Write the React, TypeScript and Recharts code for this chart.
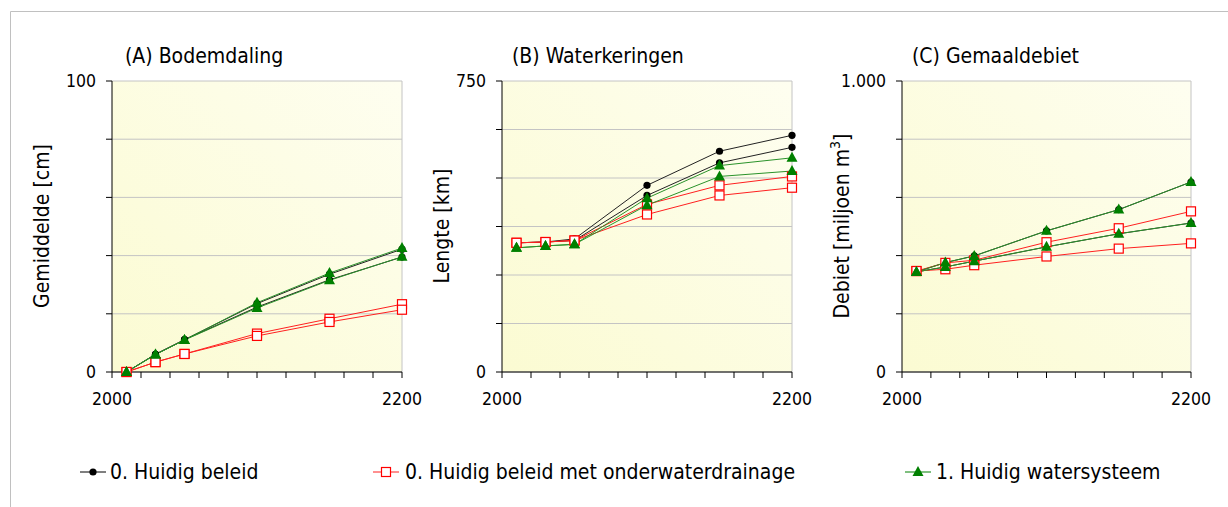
import React from "react";
import { LineChart, Line, XAxis, YAxis, CartesianGrid, ReferenceLine } from "recharts";

// scenario years (shared by all three panels)
const years = [2010, 2030, 2050, 2100, 2150, 2200];
const xTicks = [2000, 2020, 2040, 2060, 2080, 2100, 2120, 2140, 2160, 2180, 2200];

// (A) Bodemdaling [cm]
const bodemBeleidHoog = [0, 6.1, 11.1, 23.5, 33.6, 42.2];
const bodemBeleidLaag = [0, 6.1, 11.1, 22.3, 31.7, 39.5];
const bodemDrainHoog = [0, 3.4, 6.2, 13.2, 18.3, 23.3];
const bodemDrainLaag = [0, 3.4, 6.2, 12.4, 17.2, 21.4];
const bodemWaterHoog = [0, 6.0, 11.0, 23.8, 34.0, 42.6];
const bodemWaterLaag = [0, 6.0, 11.0, 22.0, 31.5, 39.6];
const bodemTicks = [0, 20, 40, 60, 80, 100];

// (B) Waterkeringen [km]
const keringBeleidHoog = [333, 335, 343, 481, 569, 610];
const keringBeleidLaag = [333, 335, 339, 455, 539, 579];
const keringDrainHoog = [333, 335, 339, 432, 481, 504];
const keringDrainLaag = [333, 335, 339, 406, 455, 475];
const keringWaterHoog = [320, 325, 329, 448, 532, 552];
const keringWaterLaag = [320, 325, 329, 430, 504, 518];
const keringTicks = [0, 125, 250, 375, 500, 625, 750];

// (C) Gemaaldebiet [miljoen m3]
const debietBeleidHoog = [344, 376, 399, 485, 558, 653];
const debietBeleidLaag = [344, 361, 381, 430, 475, 512];
const debietDrainHoog = [347, 375, 384, 446, 494, 552];
const debietDrainLaag = [347, 353, 367, 397, 424, 442];
const debietWaterHoog = [344, 376, 399, 485, 558, 653];
const debietWaterLaag = [344, 361, 381, 430, 475, 512];
const debietTicks = [0, 200, 400, 600, 800, 1000];

const legendItems = ["0. Huidig beleid", "0. Huidig beleid met onderwaterdrainage", "1. Huidig watersysteem"];

const FONT = "'DejaVu Sans Condensed', 'DejaVu Sans', sans-serif";
const BLACK = "#000000";
const RED = "#ff2020";
const GREEN = "#008000";

const rows = (b1, b2, r1, r2, g1, g2) =>
  years.map((year, i) => ({ year, b1: b1[i], b2: b2[i], r1: r1[i], r2: r2[i], g1: g1[i], g2: g2[i] }));

const Circle = (p) =>
  p.cx == null ? null : <circle key={p.key} cx={p.cx} cy={p.cy} r={3.6} fill={BLACK} />;
const Square = (p) =>
  p.cx == null ? null : (
    <rect key={p.key} x={p.cx - 4.5} y={p.cy - 4.5} width={9} height={9} fill="#fff" stroke="#ff0000" strokeWidth={1.2} />
  );
const Triangle = (p) =>
  p.cx == null ? null : (
    <polygon key={p.key} points={`${p.cx},${p.cy - 6} ${p.cx + 5.5},${p.cy + 4} ${p.cx - 5.5},${p.cy + 4}`} fill={GREEN} />
  );

const panels = [
  {
    left: 0, width: 440, yWidth: 112, right: 38,
    data: rows(bodemBeleidHoog, bodemBeleidLaag, bodemDrainHoog, bodemDrainLaag, bodemWaterHoog, bodemWaterLaag),
    ticks: bodemTicks, fmt: (v) => (v === 0 ? "0" : v === 100 ? "100" : ""),
  },
  {
    left: 420, width: 420, yWidth: 82, right: 48,
    data: rows(keringBeleidHoog, keringBeleidLaag, keringDrainHoog, keringDrainLaag, keringWaterHoog, keringWaterLaag),
    ticks: keringTicks, fmt: (v) => (v === 0 ? "0" : v === 750 ? "750" : ""),
  },
  {
    left: 820, width: 408, yWidth: 82, right: 37,
    data: rows(debietBeleidHoog, debietBeleidLaag, debietDrainHoog, debietDrainLaag, debietWaterHoog, debietWaterLaag),
    ticks: debietTicks, fmt: (v) => (v === 0 ? "0" : v === 1000 ? "1.000" : ""),
  },
];

const tickStyle = { fill: "#000", fontSize: 17.5, fontFamily: FONT };

function Panel({ cfg }) {
  const max = cfg.ticks[cfg.ticks.length - 1];
  return (
    <div style={{ position: "absolute", left: cfg.left, top: 0 }}>
      <LineChart width={cfg.width} height={420} data={cfg.data} margin={{ top: 81, right: cfg.right, bottom: 18, left: 0 }}>
        <CartesianGrid vertical={false} stroke="#c4c4c4" fill="url(#plotBg)" fillOpacity={1} />
        <ReferenceLine x={2200} stroke="#c4c4c4" />
        <XAxis
          dataKey="year" type="number" domain={[2000, 2200]} ticks={xTicks} interval={0}
          tickFormatter={(v) => (v === 2000 || v === 2200 ? String(v) : "")}
          tickSize={6} tickMargin={15} stroke={BLACK} tick={tickStyle}
        />
        <YAxis
          type="number" domain={[0, max]} ticks={cfg.ticks} interval={0} width={cfg.yWidth}
          tickFormatter={cfg.fmt} tickSize={6} tickMargin={10} stroke={BLACK} tick={tickStyle}
        />
        <Line dataKey="b1" stroke="#222" strokeWidth={1} dot={Circle} activeDot={false} isAnimationActive={false} />
        <Line dataKey="b2" stroke="#222" strokeWidth={1} dot={Circle} activeDot={false} isAnimationActive={false} />
        <Line dataKey="r1" stroke={RED} strokeWidth={1} dot={Square} activeDot={false} isAnimationActive={false} />
        <Line dataKey="r2" stroke={RED} strokeWidth={1} dot={Square} activeDot={false} isAnimationActive={false} />
        <Line dataKey="g1" stroke="#2a922a" strokeWidth={1} dot={Triangle} activeDot={false} isAnimationActive={false} />
        <Line dataKey="g2" stroke="#2a922a" strokeWidth={1} dot={Triangle} activeDot={false} isAnimationActive={false} />
      </LineChart>
    </div>
  );
}

export default function App() {
  const txt = { fontFamily: FONT, fontSize: 21, fill: "#000" };
  return (
    <div style={{ position: "relative", width: 1228, height: 507, background: "#fff", overflow: "hidden" }}>
      <style>{"body{margin:0}"}</style>
      <svg width={1228} height={507} style={{ position: "absolute", left: 0, top: 0 }}>
        <defs>
          <linearGradient id="plotBg" x1="0" y1="1" x2="1" y2="0">
            <stop offset="0%" stopColor="#fbfbd2" />
            <stop offset="100%" stopColor="#fefef0" />
          </linearGradient>
        </defs>
        <path d="M10.5,507 L10.5,11.5 L1228,11.5" fill="none" stroke="#c0c0c0" />
        <text x={125} y={63} {...txt}>(A) Bodemdaling</text>
        <text x={512} y={63} {...txt}>(B) Waterkeringen</text>
        <text x={912} y={63} {...txt}>(C) Gemaaldebiet</text>
        <text transform="translate(49,226) rotate(-90)" textAnchor="middle" {...txt}>Gemiddelde [cm]</text>
        <text transform="translate(449,226) rotate(-90)" textAnchor="middle" {...txt}>Lengte [km]</text>
        <text transform="translate(849,226) rotate(-90)" textAnchor="middle" {...txt}>
          <tspan>Debiet [miljoen m</tspan>
          <tspan dy={-9} fontSize={14}>3</tspan>
          <tspan dy={9}>]</tspan>
        </text>
        {/* legend */}
        <line x1={80} y1={472} x2={106} y2={472} stroke={BLACK} />
        <circle cx={93} cy={472} r={3.6} fill={BLACK} />
        <text x={110} y={479} {...txt}>{legendItems[0]}</text>
        <line x1={373} y1={472} x2={399} y2={472} stroke={RED} />
        <rect x={381.5} y={467.5} width={9} height={9} fill="#fff" stroke="#ff0000" strokeWidth={1.2} />
        <text x={405} y={479} {...txt}>{legendItems[1]}</text>
        <line x1={905} y1={472} x2={931} y2={472} stroke={GREEN} />
        <polygon points="918,466 923.5,476 912.5,476" fill={GREEN} />
        <text x={936} y={479} {...txt}>{legendItems[2]}</text>
      </svg>
      {panels.map((cfg, i) => (
        <Panel key={i} cfg={cfg} />
      ))}
    </div>
  );
}
